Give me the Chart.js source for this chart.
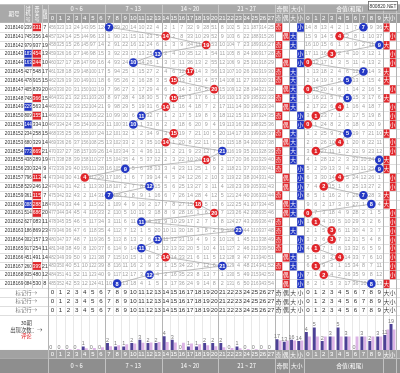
<!DOCTYPE html>
<html>
<head>
<meta charset="utf-8">
<title>和值走势</title>
<script src="https://cdn.jsdelivr.net/npm/chart.js@4.4.1/dist/chart.umd.min.js"></script>
<style>
  html, body { margin: 0; padding: 0; background: #fff; }
  #wrap { width: 400px; height: 373px; }
</style>
</head>
<body>
<div id="wrap"><canvas id="trend" width="400" height="373"></canvas></div>
<script>
// 期号 / 试机号 / 开奖号 / 和值 / 和尾
const issues = ['2018140','2018141','2018142','2018143','2018144','2018145','2018146','2018147','2018148','2018149',
                '2018150','2018151','2018152','2018153','2018154','2018155','2018156','2018157','2018158','2018159',
                '2018160','2018161','2018162','2018163','2018164','2018165','2018166','2018167','2018168','2018169'];
const tryNums = ['239','745','979','183','163','427','478','405','748','229','809','144','234','680','773',
                 '438','230','796','529','361','088','514','627','186','302','917','451','260','935','084'];
const drawNums = ['331','356','937','454','244','548','915','839','366','563','155','334','258','329','669',
                  '289','324','112','246','115','288','686','083','869','157','254','491','399','480','530'];
const sums  = [7,14,19,13,10,17,15,20,15,14,11,10,15,14,21,19,9,4,12,7,18,20,11,23,13,11,14,21,12,8];
const tails = [7,4,9,3,0,7,5,0,5,4,1,0,5,4,1,9,9,4,2,7,8,0,1,3,3,1,4,1,2,8];
const tryMark  = [0,0,0,1,1,0,0,0,0,1,0,1,0,0,1,0,0,0,0,0,1,0,0,0,0,0,0,0,0,0];
const drawMark = [1,0,0,1,1,0,0,0,1,0,1,0,0,0,1,0,0,1,0,1,1,1,0,0,0,0,0,1,0,0];
// 第一期的遗漏值
const sumMiss0  = [456,323,13,24,143,95,12,0,89,20,14,10,22,4,2,1,7,32,9,28,51,8,102,5,21,187,314,25];
const tailMiss0 = [14,8,13,4,2,1,7,0,9,36];
// 列标签
const sumLabels  = ['0','1','2','3','4','5','6','7','8','9','10','11','12','13','14','15','16','17','18','19','20','21','22','23','24','25','26','27'];
const oeLabels   = ['奇','偶','大','小'];
const tailLabels = ['0','1','2','3','4','5','6','7','8','9'];
const bsLabels   = ['大','小'];
const groupNames = ['0 ~ 6','7 ~ 13','14 ~ 20','21 ~ 27','奇偶','大小','合值(和尾)'];
// 30期出现次数 / 理论次数
const sumCount  = [0,0,0,0,1,0,0,2,1,1,2,3,2,2,4,3,0,1,1,2,2,2,0,1,0,0,0,0];
const sumExpect = [0,0.1,0.2,0.3,0.5,0.6,0.8,1.1,1.4,1.7,1.9,2.1,2.2,2.3,2.3,2.2,2.1,1.9,1.7,1.4,1.1,0.8,0.6,0.5,0.3,0.2,0.1,0];
const oeCount   = [17,13,16,14];
const oeExpect  = [15,15,15,15];
const tailCount = [4,5,2,3,5,3,0,3,2,3];
const tailExpect= [3,3,3,3,3,3,3,3,3,3];
const bsCount   = [11,19];
const bsExpect  = [15,15];

const RED = '#e1262b', BLUE = '#2438c4';
const DARK_BAR = '#4d4196', LIGHT_BAR = '#dcb3e6';
const FN = '"Liberation Sans", Arial, sans-serif';
const FC = '"Noto Sans CJK SC", sans-serif';

// 列宽（单位宽），左侧四列的边界
const COL_GROUPS = [{n: 28, w: 1}, {n: 4, w: 0.895}, {n: 10, w: 0.98}, {n: 2, w: 0.77}];
const LEFT = [-5.44, -3.02, -1.99, -0.84, 0];
const YMIN = -2.1, YMAX = 39.12;
const edges = [];
(function () { let u = 0; for (const g of COL_GROUPS) for (let i = 0; i < g.n; i++) { edges.push(u); u += g.w; } edges.push(u); })();
const colC = k => (edges[k] + edges[k + 1]) / 2;
const allLabels = sumLabels.concat(oeLabels, tailLabels, bsLabels);
const groupSpans = [[0, 7], [7, 14], [14, 21], [21, 28], [28, 30], [30, 32], [32, 44]];
const groupEdges = [0, 7, 14, 21, 28, 30, 32, 42, 44];

function barAxis(pxPerCount) {
    const span = 373 / pxPerCount;
    const min = -(YMAX - 37) / (YMAX - YMIN) * span;
    return { type: 'linear', axis: 'y', display: false, min: min, max: min + span };
}
function bars(vals, first, axis, color, shift, showValue) {
    return { type: 'bar', data: vals.map((v, i) => ({ x: colC(first + i) + shift, y: v })), xAxisID: 'x', yAxisID: axis,
             backgroundColor: color, grouped: false, categoryPercentage: 1, barPercentage: 0.95, maxBarThickness: 3, showValue: showValue, order: 2 };
}
function balls(vals, first, colorOf) {
    return { type: 'line', data: vals.map((v, r) => ({ x: colC(first + v), y: r + 0.5 })), xAxisID: 'x', yAxisID: 'y',
             borderColor: '#a0a0a0', borderWidth: 0.7, tension: 0, fill: false,
             pointRadius: 4.3, pointHoverRadius: 4.3, pointBorderWidth: 0,
             pointBackgroundColor: vals.map(colorOf), pointBorderColor: vals.map(colorOf), ballText: vals, order: 0 };
}

const tablePlugin = {
    id: 'trendTable',
    beforeDatasetsDraw(chart) {
        const ctx = chart.ctx, xs = chart.scales.x, ys = chart.scales.y;
        const X = v => xs.getPixelForValue(v), Y = v => ys.getPixelForValue(v);
        const W = chart.width, H = chart.height;
        const txt = (s, x, y, font, color, maxW, align) => {
            ctx.font = font; ctx.fillStyle = color; ctx.textAlign = align || 'center';
            if (maxW) ctx.fillText(s, x, y, maxW); else ctx.fillText(s, x, y);
        };
        const vline = (x, y0, y1, c) => { ctx.strokeStyle = c; ctx.beginPath(); ctx.moveTo(Math.round(x) + 0.5, y0); ctx.lineTo(Math.round(x) + 0.5, y1); ctx.stroke(); };
        const hline = (y, x0, x1, c) => { ctx.strokeStyle = c; ctx.beginPath(); ctx.moveTo(x0, Math.round(y) + 0.5); ctx.lineTo(x1, Math.round(y) + 0.5); ctx.stroke(); };
        const isCjk = s => /[^\x00-\x7f]/.test(s);
        ctx.save();
        ctx.textBaseline = 'middle';
        ctx.lineWidth = 1;
        ctx.fillStyle = '#fff'; ctx.fillRect(0, 0, W, H);

        // 表头
        const h0 = Y(YMIN), h1 = Y(-1.1), h2 = Y(0);
        ctx.fillStyle = '#a9a9a9'; ctx.fillRect(0, h0, W, h2 - h0);
        ctx.fillStyle = '#9b9b9b'; ctx.fillRect(X(0), h1, W - X(0), h2 - h1);
        txt('期号', (X(LEFT[0]) + X(LEFT[1])) / 2, (h0 + h2) / 2, `5.5px ${FC}`, '#fff');
        ['试机号', '开奖号', '和值'].forEach((t, i) => {
            const cx = (X(LEFT[i + 1]) + X(LEFT[i + 2])) / 2;
            const chars = t.split('');
            const step = 5.6, y0 = (h0 + h2) / 2 - (chars.length - 1) * step / 2;
            chars.forEach((ch, j) => txt(ch, cx, y0 + j * step, `5px ${FC}`, '#fff'));
        });
        groupSpans.forEach(([a, b], i) => {
            txt(groupNames[i], (X(edges[a]) + X(edges[b])) / 2, (h0 + h1) / 2, `5.8px ${FC}`, '#fff');
        });
        allLabels.forEach((s, k) => {
            txt(s, X(colC(k)), (h1 + h2) / 2 + 0.3, isCjk(s) ? `5.5px ${FC}` : `6px ${FN}`, '#fff', X(edges[k + 1]) - X(edges[k]));
        });
        for (let k = 0; k <= 44; k++) vline(X(edges[k]), groupEdges.includes(k) ? h0 : h1, h2, '#c6c6c6');
        for (let i = 1; i < LEFT.length; i++) vline(X(LEFT[i]), h0, h2, '#c6c6c6');
        hline(h1, X(0), W, '#c6c6c6');

        // 数据区网格
        const yTop = Y(0), yBase = Y(37);
        for (let r = 1; r <= 33; r++) hline(Y(r), 0, W, '#dedede');
        for (let k = 0; k <= 44; k++) vline(X(edges[k]), yTop, yBase, groupEdges.includes(k) ? '#b5b5b5' : '#e8e8e8');
        for (let i = 1; i < LEFT.length - 1; i++) vline(X(LEFT[i]), yTop, Y(30), '#d6d6d6');

        // 期号 / 试机号 / 开奖号 / 和值 与遗漏
        let sMiss = sumMiss0.slice(), tMiss = tailMiss0.slice();
        for (let r = 0; r < issues.length; r++) {
            const yc = Y(r + 0.5), y0 = Y(r), y1 = Y(r + 1);
            if (r > 0) { sMiss = sMiss.map(v => v + 1); tMiss = tMiss.map(v => v + 1); }
            sMiss[sums[r]] = 0; tMiss[tails[r]] = 0;
            txt(issues[r], X(LEFT[0]) + 0.5, yc, `5.6px ${FN}`, '#333', X(LEFT[1]) - X(LEFT[0]) - 1, 'left');
            const cell = (txtS, i, mark, fill) => {
                const a = X(LEFT[i]), b = X(LEFT[i + 1]);
                if (mark) { ctx.fillStyle = fill; ctx.fillRect(a + 0.5, y0 + 0.5, b - a - 1, y1 - y0 - 1); }
                txt(txtS, (a + b) / 2, yc, `5.6px ${FN}`, mark ? '#fff' : '#333', b - a - 1);
            };
            cell(tryNums[r], 1, tryMark[r], BLUE);
            cell(drawNums[r], 2, drawMark[r], RED);
            cell(String(sums[r]), 3, 0, '');
            sMiss.forEach((v, c) => { if (v) txt(String(v), X(colC(c)), yc, `5.4px ${FN}`, '#a3a3a3', X(edges[c + 1]) - X(edges[c]) - 0.6); });
            tMiss.forEach((v, c) => { if (v) txt(String(v), X(colC(32 + c)), yc, `5.4px ${FN}`, '#a3a3a3', X(edges[33 + c]) - X(edges[32 + c]) - 0.6); });
            const hits = [[sums[r] % 2 === 1 ? 28 : 29, RED], [sums[r] >= 14 ? 30 : 31, BLUE], [tails[r] >= 5 ? 42 : 43, RED]];
            hits.forEach(([k, col]) => {
                const a = X(edges[k]), b = X(edges[k + 1]);
                ctx.fillStyle = col; ctx.fillRect(a + 0.5, y0 + 0.5, b - a - 0.5, y1 - y0 - 0.5);
                txt(allLabels[k], (a + b) / 2, yc, `5.6px ${FC}`, '#fff');
            });
        }

        // 标记行
        for (let m = 0; m < 3; m++) {
            const yc = Y(30 + m + 0.5);
            txt('标记行→', (X(LEFT[0]) + X(0)) / 2, yc, `5.4px ${FC}`, '#777');
            allLabels.forEach((s, k) => txt(s, X(colC(k)), yc, isCjk(s) ? `5.8px ${FC}` : `6.2px ${FN}`, '#333', X(edges[k + 1]) - X(edges[k])));
        }
        // 统计区左侧说明
        const lx = (X(LEFT[0]) + X(0)) / 2;
        txt('30期', lx, Y(34.0), `5.4px ${FC}`, '#444');
        txt('出现次数：→', lx, Y(34.7), `5.4px ${FC}`, '#444');
        txt('评论', lx, Y(35.4), `5.4px ${FC}`, RED);

        // 底部标签行
        const f1 = Y(37.95);
        ctx.fillStyle = '#a2a2a2'; ctx.fillRect(0, yBase, W, f1 - yBase);
        ctx.fillStyle = '#8e8e8e'; ctx.fillRect(0, f1, W, H - f1);
        allLabels.forEach((s, k) => txt(s, X(colC(k)), (yBase + f1) / 2 + 0.3, isCjk(s) ? `5.5px ${FC}` : `6px ${FN}`, '#fff', X(edges[k + 1]) - X(edges[k])));
        groupSpans.forEach(([a, b], i) => txt(groupNames[i], (X(edges[a]) + X(edges[b])) / 2, (f1 + H) / 2, `5.8px ${FC}`, '#fff'));
        for (let k = 0; k <= 44; k++) vline(X(edges[k]), yBase, groupEdges.includes(k) ? H : f1, '#c2c2c2');
        hline(f1, X(0), W, '#c2c2c2');
        ctx.restore();
    },
    afterDatasetsDraw(chart) {
        const ctx = chart.ctx;
        ctx.save();
        ctx.textAlign = 'center'; ctx.textBaseline = 'middle';
        chart.data.datasets.forEach((ds, i) => {
            const meta = chart.getDatasetMeta(i);
            if (ds.ballText) {
                ctx.font = `bold 5.6px ${FN}`; ctx.fillStyle = '#fff';
                meta.data.forEach((el, j) => ctx.fillText(String(ds.ballText[j]), el.x, el.y + 0.3));
            }
            if (ds.showValue) {
                ctx.font = `5.4px ${FN}`; ctx.fillStyle = '#7a7a7a';
                meta.data.forEach((el, j) => ctx.fillText(String(ds.data[j].y), el.x, el.y - 2.6));
            }
        });
        // 水印
        ctx.fillStyle = '#fff'; ctx.fillRect(368.5, 1.5, 29, 8.5);
        ctx.strokeStyle = '#666'; ctx.lineWidth = 0.8; ctx.strokeRect(368.5, 1.5, 29, 8.5);
        ctx.font = `6px ${FN}`; ctx.fillStyle = '#333';
        ctx.fillText('800820.NET', 383, 6, 27);
        ctx.restore();
    }
};

const SHIFT = 0.19;
new Chart(document.getElementById('trend'), {
    type: 'bar',
    data: {
        datasets: [
            balls(sums, 0, s => (Math.floor(s / 7) % 2 === 0 ? RED : BLUE)),
            balls(tails, 32, t => (t < 5 ? RED : BLUE)),
            bars(sumCount, 0, 'bS', DARK_BAR, -SHIFT, true),
            bars(sumExpect, 0, 'bS', LIGHT_BAR, SHIFT, false),
            bars(oeCount, 28, 'bO', DARK_BAR, -SHIFT, true),
            bars(oeExpect, 28, 'bO', LIGHT_BAR, SHIFT, false),
            bars(tailCount, 32, 'bT', DARK_BAR, -SHIFT, true),
            bars(tailExpect, 32, 'bT', LIGHT_BAR, SHIFT, false),
            bars(bsCount, 42, 'bB', DARK_BAR, -SHIFT, true),
            bars(bsExpect, 42, 'bB', LIGHT_BAR, SHIFT, false)
        ]
    },
    options: {
        responsive: false,
        animation: false,
        devicePixelRatio: 1,
        layout: { padding: 0 },
        plugins: { legend: { display: false }, tooltip: { enabled: false } },
        scales: {
            x: { type: 'linear', display: false, min: LEFT[0], max: edges[edges.length - 1], offset: false },
            y: { type: 'linear', display: false, min: YMIN, max: YMAX, reverse: true },
            bS: barAxis(3.5),
            bO: barAxis(0.65),
            bT: barAxis(4.6),
            bB: barAxis(1.4)
        }
    },
    plugins: [tablePlugin]
});
</script>
</body>
</html>
